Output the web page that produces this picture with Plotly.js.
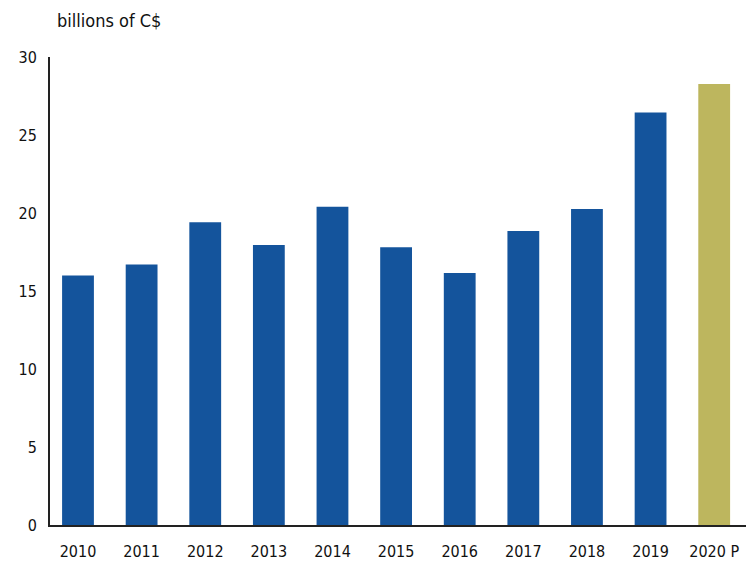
<!DOCTYPE html>
<html>
<head>
<meta charset="utf-8">
<script src="https://cdn.plot.ly/plotly-3.0.1.min.js"></script>
<style>html,body{margin:0;padding:0;background:#fff;}#chart{width:746px;height:564px;}</style>
</head>
<body>
<div id="chart"></div>
<script>
const years = ["2010","2011","2012","2013","2014","2015","2016","2017","2018","2019","2020 P"];
const values = [16.0, 16.7, 19.4, 17.95, 20.4, 17.8, 16.15, 18.85, 20.25, 26.45, 28.27];
const blue = "#14549c";
const gold = "#bdb65e";
const barColors = years.map(y => y.indexOf("P") >= 0 ? gold : blue);

const fontFam = "DejaVu Sans Condensed, Liberation Sans Narrow, sans-serif";

Plotly.newPlot("chart", [{
  type: "bar",
  x: years,
  y: values,
  marker: {color: barColors, line: {width: 0}},
  width: 0.5,
  hoverinfo: "none"
}], {
  width: 746,
  height: 564,
  paper_bgcolor: "#fff",
  plot_bgcolor: "#fff",
  margin: {l: 50, r: 0, t: 57, b: 39},
  showlegend: false,
  title: {
    text: "billions of C$",
    font: {family: fontFam, size: 18, color: "#111"},
    x: 57/746, xanchor: "left", xref: "container",
    y: 1 - 21/564, yanchor: "middle", yref: "container"
  },
  xaxis: {
    type: "category",
    range: [-0.44, 10.5],
    showline: true, linecolor: "#222", linewidth: 2,
    showgrid: false, zeroline: false,
    ticks: "", tickfont: {family: fontFam, size: 16, color: "#111"},
    ticklabelstandoff: 11
  },
  yaxis: {
    range: [0, 30],
    tickvals: [0,5,10,15,20,25,30],
    showline: true, linecolor: "#222", linewidth: 2,
    showgrid: false, zeroline: false,
    ticks: "", tickfont: {family: fontFam, size: 16, color: "#111"},
    ticklabelstandoff: 8
  }
}, {staticPlot: true});
</script>
</body>
</html>
